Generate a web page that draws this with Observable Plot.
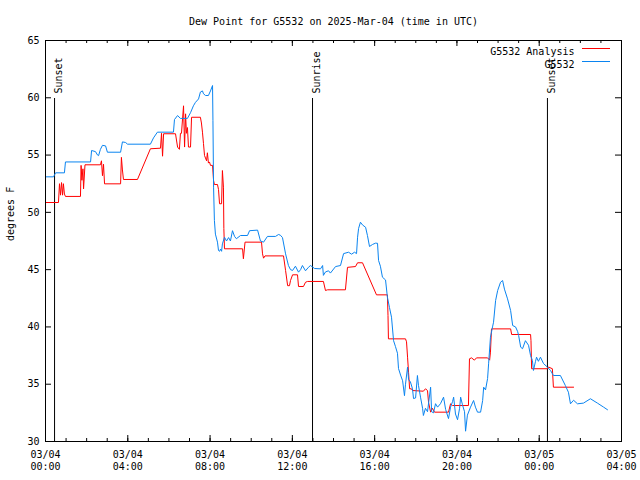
<!DOCTYPE html>
<html><head><meta charset="utf-8">
<script src="https://cdn.jsdelivr.net/npm/d3@7"></script>
<script src="https://cdn.jsdelivr.net/npm/@observablehq/plot@0.6"></script>
<style>body{margin:0;background:#fff;} svg{display:block}</style>
</head><body><div id="chart"></div>
<script>
const titleText = "Dew Point for G5532 on 2025-Mar-04 (time in UTC)";
const yAxisLabel = "degrees F";
const seriesNames = ["G5532 Analysis", "G5532"];
const seriesColors = ["#ff0000", "#0a84f0"];
const xTickHours = [0, 4, 8, 12, 16, 20, 24, 28];
const xTickLabels = ["03/04\n00:00", "03/04\n04:00", "03/04\n08:00", "03/04\n12:00", "03/04\n16:00", "03/04\n20:00", "03/05\n00:00", "03/05\n04:00"];
const yTicks = [30, 35, 40, 45, 50, 55, 60, 65];
const sunHours = [0.44, 12.98, 24.40];
const sunLabels = ["Sunset", "Sunrise", "Sunset"];

// [hours since 2025-03-04 00:00 UTC, dew point °F]
const analysisSeries = [[0.00,50.86],[0.63,50.86],[0.68,52.5],[0.73,51.5],[0.78,52.6],[0.83,51.5],[0.87,52.5],[0.92,51.6],[0.97,51.39],[1.70,51.39],[1.73,54.1],[1.77,52.8],[1.82,53.8],[1.85,52.05],[1.92,54.15],[2.67,54.15],[2.72,54.5],[2.77,53.2],[2.82,54.2],[2.87,52.49],[3.65,52.49],[3.69,54.8],[3.74,53.7],[3.79,52.87],[4.47,52.87],[5.10,55.55],[5.59,55.6],[5.64,56.9],[5.69,54.9],[5.74,56.86],[6.32,56.86],[6.42,55.7],[6.51,55.5],[6.56,56.9],[6.61,56.9],[6.71,59.3],[6.76,55.7],[6.81,58.6],[6.85,56.9],[6.90,57.4],[6.95,55.7],[7.05,55.7],[7.10,58.3],[7.53,58.3],[7.58,57.8],[7.63,57.0],[7.68,56.0],[7.73,54.96],[7.83,54.5],[7.87,55.2],[7.92,54.3],[7.97,54.4],[8.02,54.1],[8.12,54.1],[8.17,52.78],[8.21,52.43],[8.36,52.43],[8.41,52.0],[8.46,50.75],[8.56,50.75],[8.60,53.65],[8.65,52.2],[8.67,48.6],[8.70,46.82],[9.58,46.82],[9.62,45.95],[9.70,47.4],[10.50,47.4],[10.55,46.38],[10.60,46.0],[10.67,46.2],[11.57,46.2],[11.67,44.93],[11.77,43.6],[11.86,43.6],[11.91,44.05],[12.01,44.55],[12.25,44.55],[12.30,43.53],[12.54,43.53],[12.64,43.9],[12.74,43.97],[13.51,43.97],[13.61,43.18],[13.71,43.24],[14.58,43.24],[14.68,45.2],[15.07,45.27],[15.17,45.6],[15.41,45.6],[16.09,42.8],[16.62,42.8],[16.65,41.0],[16.67,38.96],[17.50,38.96],[17.55,38.7],[17.60,37.36],[17.65,36.0],[17.70,34.6],[17.79,34.6],[17.84,34.45],[18.37,34.39],[18.47,34.6],[18.57,34.45],[18.62,33.43],[18.72,32.56],[18.81,32.9],[18.91,32.56],[19.59,32.56],[19.69,33.29],[19.79,33.14],[20.56,33.14],[20.61,37.22],[20.71,37.3],[20.85,37.1],[20.95,37.3],[21.49,37.3],[21.59,37.1],[21.63,37.8],[21.68,39.83],[22.61,39.83],[22.66,39.34],[23.58,39.34],[23.60,38.8],[23.63,36.35],[24.40,36.35],[24.45,36.5],[24.64,36.35],[24.69,34.74],[25.67,34.74]];

const stationSeries = [[0.00,53.1],[0.39,53.1],[0.49,53.45],[0.92,53.45],[0.97,54.4],[2.19,54.4],[2.24,55.4],[2.43,55.3],[2.53,55.0],[2.58,54.95],[2.67,55.5],[2.77,55.85],[2.92,55.8],[3.01,55.25],[3.65,55.25],[3.74,56.15],[3.89,56.1],[3.99,55.95],[5.10,55.95],[5.25,56.5],[5.44,57.0],[6.22,57.0],[6.27,58.1],[6.42,58.45],[6.56,58.2],[6.90,58.2],[7.05,58.7],[7.19,59.3],[7.29,59.6],[7.44,59.9],[7.53,60.5],[7.63,60.6],[7.68,60.35],[7.78,60.2],[7.92,60.2],[8.02,60.6],[8.12,61.07],[8.14,58.0],[8.17,52.2],[8.21,49.3],[8.26,48.1],[8.36,47.4],[8.41,46.67],[8.46,46.6],[8.51,46.8],[8.56,46.6],[8.60,47.25],[8.70,47.83],[8.80,47.5],[8.90,47.8],[8.99,47.5],[9.09,48.4],[9.19,47.9],[9.28,47.7],[9.48,47.98],[9.82,47.98],[9.92,48.4],[10.31,48.45],[10.45,47.5],[10.60,47.4],[10.79,47.9],[11.18,47.9],[11.33,48.07],[11.42,48.0],[11.52,47.8],[11.67,46.38],[11.81,45.36],[11.91,45.0],[12.01,44.93],[12.15,45.3],[12.30,44.78],[12.40,45.0],[12.49,45.36],[12.64,44.9],[12.78,45.2],[12.88,45.36],[13.08,45.1],[13.37,45.07],[13.47,45.36],[13.51,44.5],[13.61,44.8],[13.76,44.9],[13.85,44.7],[14.10,45.27],[14.34,45.36],[14.49,46.4],[14.73,46.52],[14.88,46.35],[15.02,46.52],[15.12,46.4],[15.17,47.83],[15.22,48.6],[15.31,49.14],[15.41,48.9],[15.56,48.7],[15.65,47.98],[15.75,47.02],[15.90,47.2],[16.04,47.31],[16.14,47.3],[16.19,45.8],[16.28,45.3],[16.38,44.34],[16.53,44.1],[16.62,42.6],[16.72,41.7],[16.82,40.85],[16.92,38.8],[17.01,38.3],[17.11,37.7],[17.16,36.37],[17.26,35.8],[17.36,35.3],[17.45,34.0],[17.50,35.0],[17.60,36.5],[17.65,35.4],[17.74,35.2],[17.84,34.6],[17.89,33.75],[17.99,33.8],[18.08,35.76],[18.13,34.9],[18.23,33.87],[18.33,32.9],[18.37,32.27],[18.47,32.9],[18.57,32.6],[18.72,34.74],[18.77,32.6],[18.86,32.5],[18.96,33.3],[19.06,33.0],[19.20,33.3],[19.35,33.87],[19.45,32.8],[19.59,32.0],[19.69,33.0],[19.79,33.5],[19.84,33.87],[19.93,32.4],[20.03,31.9],[20.13,32.9],[20.18,33.87],[20.27,33.2],[20.37,32.6],[20.42,30.9],[20.51,32.3],[20.66,33.0],[20.81,33.58],[20.90,33.0],[21.00,32.56],[21.15,32.56],[21.25,33.58],[21.30,34.74],[21.39,34.5],[21.49,35.5],[21.54,36.78],[21.63,39.1],[21.73,40.0],[21.78,40.41],[21.88,42.3],[21.98,43.18],[22.12,43.9],[22.22,44.05],[22.31,43.3],[22.46,42.45],[22.61,41.43],[22.71,40.12],[22.85,40.0],[22.95,39.6],[23.00,39.25],[23.10,38.23],[23.19,38.1],[23.33,38.8],[23.48,38.4],[23.58,37.5],[23.67,37.07],[23.72,36.2],[23.82,37.0],[23.87,37.36],[23.96,37.0],[24.06,37.36],[24.21,36.8],[24.40,36.49],[24.55,36.2],[24.69,35.76],[25.03,35.76],[25.27,34.89],[25.42,34.3],[25.52,33.29],[25.67,33.6],[25.86,33.29],[26.15,33.35],[26.49,33.73],[26.83,33.35],[27.13,33.0],[27.32,32.77]];

const start = Date.UTC(2025, 2, 4);
const toDate = h => new Date(start + h * 3600000);
const analysis = analysisSeries.map(([h, v]) => ({date: toDate(h), value: v}));
const station = stationSeries.map(([h, v]) => ({date: toDate(h), value: v}));
const majorDates = xTickHours.map(toDate);
const minorDates = d3.range(0, 29).map(toDate);
const labelMap = new Map(majorDates.map((d, i) => [+d, xTickLabels[i]]));
const sunData = sunHours.map((h, i) => ({date: toDate(h), label: sunLabels[i]}));

const W = 640, H = 480, mL = 45, mR = 19, mT = 40, mB = 39;
const fw = W - mL - mR, fh = H - mT - mB;

const chart = Plot.plot({
  width: W, height: H,
  marginLeft: mL, marginRight: mR, marginTop: mT, marginBottom: mB,
  style: {fontFamily: "DejaVu Sans Mono", fontSize: "10px", background: "white", color: "black"},
  x: {type: "utc", domain: [toDate(0), toDate(28)]},
  y: {domain: [30, 65]},
  marks: [
    Plot.ruleX(minorDates, {x: d => d, insetTop: fh - 3, stroke: "black"}),
    Plot.ruleX(minorDates, {x: d => d, insetBottom: fh - 3, stroke: "black"}),
    Plot.ruleX(majorDates, {x: d => d, insetTop: fh - 6, stroke: "black"}),
    Plot.ruleX(majorDates, {x: d => d, insetBottom: fh - 6, stroke: "black"}),
    Plot.ruleY(yTicks, {y: d => d, insetRight: fw - 6, stroke: "black"}),
    Plot.ruleY(yTicks, {y: d => d, insetLeft: fw - 6, stroke: "black"}),
    Plot.axisX(majorDates, {tickSize: 0, tickPadding: 8, tickFormat: d => labelMap.get(+d), lineHeight: 1.2, label: null}),
    Plot.axisY(yTicks, {tickSize: 0, tickPadding: 6, label: null}),
    Plot.ruleX(sunData, {x: "date", insetTop: 58, stroke: "black"}),
    Plot.text(sunData, {x: "date", text: "label", frameAnchor: "top", dy: 53, rotate: -90, textAnchor: "start", fill: "black"}),
    Plot.line(analysis, {x: "date", y: "value", stroke: seriesColors[0], strokeWidth: 1}),
    Plot.line(station, {x: "date", y: "value", stroke: seriesColors[1], strokeWidth: 1}),
    Plot.frame({stroke: "black"}),
    Plot.text([titleText], {frameAnchor: "top", dy: -23, fill: "black"}),
    Plot.text([yAxisLabel], {frameAnchor: "left", dx: -35, rotate: -90, fill: "black"}),
    Plot.text([seriesNames[0]], {frameAnchor: "top-right", dx: -47, dy: 7.5, textAnchor: "end", fill: "black"}),
    Plot.text([seriesNames[1]], {frameAnchor: "top-right", dx: -47, dy: 20.5, textAnchor: "end", fill: "black"})
  ]
});
document.getElementById("chart").appendChild(chart);

// legend sample lines
const svg = d3.select(chart);
seriesColors.forEach((c, i) => {
  const y = mT + 8 + i * 13 + 0.5;
  svg.append("line")
    .attr("x1", W - mR - 39).attr("x2", W - mR - 11)
    .attr("y1", y).attr("y2", y)
    .attr("stroke", c).attr("stroke-width", 1);
});
</script>
</body></html>
